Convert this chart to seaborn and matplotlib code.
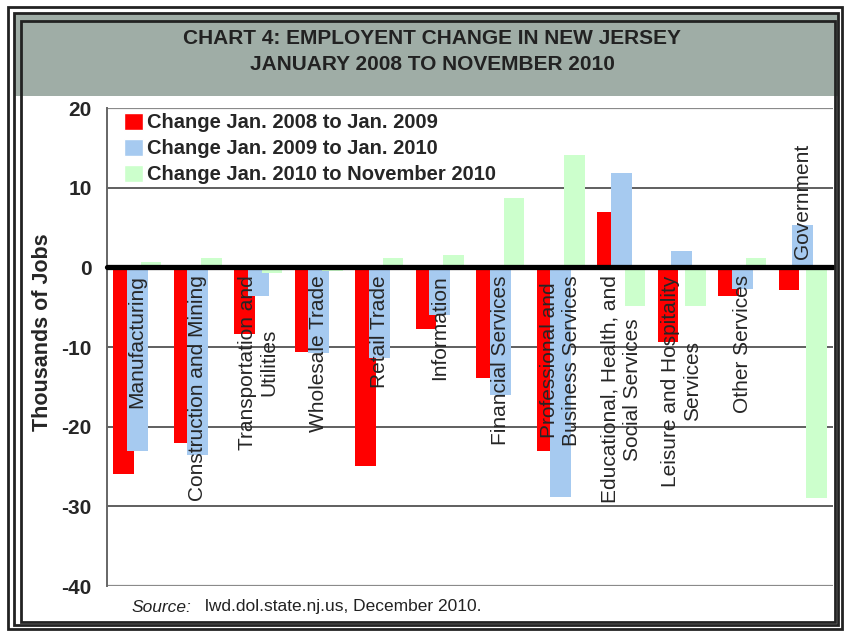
import pandas as pd
import seaborn as sns
import matplotlib.pyplot as plt
from matplotlib.patches import Rectangle

# Sectors and employment change (thousands of jobs)
sectors = ["Manufacturing", "Construction and Mining", "Transportation and\nUtilities",
           "Wholesale Trade", "Retail Trade", "Information", "Financial Services",
           "Professional and\nBusiness Services", "Educational, Health, and\nSocial Services",
           "Leisure and Hospitality\nServices", "Other Services", "Government"]
periods = ["Change Jan. 2008 to Jan. 2009", "Change Jan. 2009 to Jan. 2010",
           "Change Jan. 2010 to November 2010"]
change_2008_2009 = [-25.9, -22.1, -8.4, -10.6, -24.9, -7.8, -13.9, -23.1, 7.0, -9.4, -3.6, -2.9]
change_2009_2010 = [-23.0, -23.6, -3.6, -10.8, -11.4, -6.0, -16.0, -28.8, 11.8, 2.1, -2.7, 5.3]
change_2010_nov = [0.7, 1.2, -0.7, -0.5, 1.2, 1.6, 8.7, 14.1, -4.8, -4.8, 1.2, -28.9]
colors = ["#ff0000", "#a6caf0", "#ccffcc"]

df = pd.DataFrame({
    "sector": sectors * 3,
    "period": [p for p in periods for _ in sectors],
    "change": change_2008_2009 + change_2009_2010 + change_2010_nov,
})

sns.set_style("white")
plt.rcParams['font.family'] = ['Liberation Sans', 'DejaVu Sans']

fig = plt.figure(figsize=(8.46, 6.31), dpi=100)
W, H = 846, 631

# outer frames and title band
fig.patches.append(Rectangle((14 / W, 1 - 96 / H), 824 / W, 82 / H, transform=fig.transFigure,
                             facecolor="#9fada6", edgecolor="none", zorder=0))
for x0, y0, x1, y1, lw in [(8, 7, 842, 629, 2.0), (14, 13, 838, 625, 2.0), (21, 21, 835, 622, 2.0)]:
    fig.patches.append(Rectangle((x0 / W, 1 - y1 / H), (x1 - x0) / W, (y1 - y0) / H,
                                 transform=fig.transFigure, fill=False,
                                 edgecolor="#222222", linewidth=lw, zorder=1))

fig.text(0.5106, 1 - 38 / H, "CHART 4: EMPLOYENT CHANGE IN NEW JERSEY", ha="center", va="center",
         fontsize=15, fontweight="bold", color="#222222")
fig.text(0.5106, 1 - 65 / H, "JANUARY 2008 TO NOVEMBER 2010", ha="center", va="center",
         fontsize=15, fontweight="bold", color="#222222")

ax = fig.add_axes([107 / W, 1 - 586 / H, 726 / W, 478 / H])
ax.set_facecolor("white")

sns.barplot(data=df, x="sector", y="change", hue="period", palette=colors,
            width=0.675, saturation=1, ax=ax, errorbar=None)

# Excel-style overlapping bars
for cont in ax.containers:
    for bar in cont:
        c = bar.get_x() + bar.get_width() / 2
        bar.set_width(0.34)
        bar.set_x(c - 0.17)
        bar.set_edgecolor("none")

ax.set_xlim(-0.5, len(sectors) - 0.5)
ax.set_ylim(-40, 20)
ax.set_yticks([-40, -30, -20, -10, 0, 10, 20])
ax.set_yticklabels(["-40", "-30", "-20", "-10", "0", "10", "20"], fontsize=15, fontweight="bold")
ax.tick_params(axis="y", length=0, pad=11)
ax.set_xticks([])
ax.set_xlabel("")
ax.set_ylabel("Thousands of Jobs", fontsize=15.5, fontweight="bold")
ax.yaxis.set_label_coords(-0.074, 0.53)

for v in [-30, -20, -10, 10]:
    ax.axhline(v, color="#444444", lw=1.2, zorder=0)
for v in [-40, 20]:
    ax.axhline(v, color="#8a8a8a", lw=1.6, zorder=0)
ax.axhline(0, color="black", lw=3.8, solid_capstyle="round", clip_on=False, zorder=5)

for s in ["top", "right", "bottom"]:
    ax.spines[s].set_visible(False)
ax.spines["left"].set_color("#666666")
ax.spines["left"].set_linewidth(1.4)

# sector labels inside the plot
for i, name in enumerate(sectors):
    if name == "Government":
        ax.text(i, 1.0, name, rotation=90, ha="center", va="bottom", fontsize=15, zorder=6)
    else:
        ax.text(i, -1.0, name, rotation=90, ha="center", va="top", multialignment="center",
                fontsize=15, zorder=6)

handles, labels = ax.get_legend_handles_labels()
ax.legend(handles, labels, loc="upper left", bbox_to_anchor=(0.0234, 0.9895), frameon=False,
          borderaxespad=0, borderpad=0, handlelength=0.95, handleheight=0.9, handletextpad=0.2,
          labelspacing=0.33, prop={"size": 14.5, "weight": "bold"})

fig.text(131 / W, 1 - 607 / H, "Source:", ha="left", va="center", fontsize=12.5, style="italic",
         color="#222222")
fig.text(205 / W, 1 - 607 / H, "lwd.dol.state.nj.us, December 2010.", ha="left", va="center",
         fontsize=12.5, color="#222222")

fig.savefig("out.png", dpi=100)
